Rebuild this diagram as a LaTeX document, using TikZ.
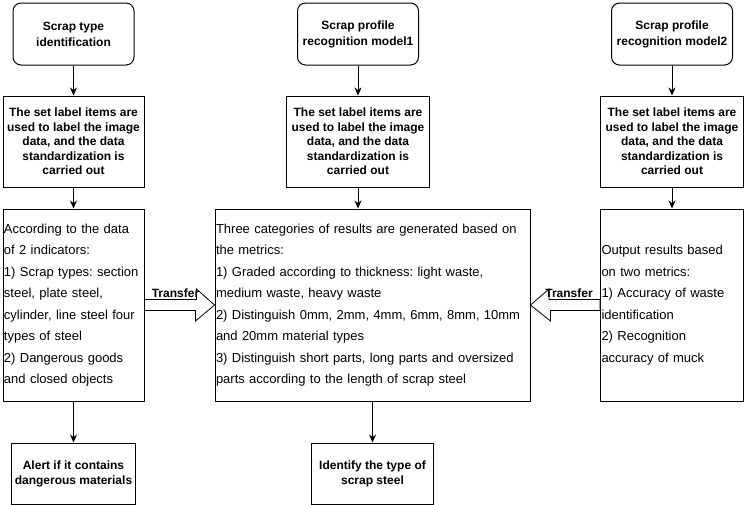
\documentclass[tikz,border=0pt]{standalone}
\usepackage{fontspec}
\setmainfont{Liberation Sans}
\frenchspacing
\usepackage{tikz}
\usetikzlibrary{shapes,arrows.meta,positioning,calc}

\begin{document}
\begin{tikzpicture}[x=1pt,y=-1pt,line width=1pt]

\tikzstyle{title} = [rectangle, rounded corners=8pt, minimum width=121pt, minimum height=62pt, align=center, draw=black, font=\bfseries\fontsize{12}{16}\selectfont]
\tikzstyle{labelbox} = [rectangle, minimum width=143pt, minimum height=91pt, align=center, inner xsep=1pt, draw=black, font=\bfseries\fontsize{12}{14.5}\selectfont]
\tikzstyle{metric} = [rectangle, minimum height=192pt, align=left, inner xsep=1pt, draw=black, font=\fontsize{13}{21.5}\selectfont]
\tikzstyle{result} = [rectangle, minimum width=122pt, minimum height=61pt, align=center, draw=black, font=\bfseries\fontsize{12}{15}\selectfont]
\tikzstyle{arrow} = [->,>={Stealth[length=8pt,width=7pt]}]
\tikzstyle{blockarrow} = [draw=black, fill=white, line width=0.8pt]
\tikzstyle{trlabel} = [inner sep=0pt, font=\bfseries\fontsize{12}{14}\selectfont]

\useasboundingbox (0,0) rectangle (749,504);

% left column
\node (type) [title] at (73.5,34) {Scrap type\\identification};
\node (label1) [labelbox, below=30pt of type, minimum width=141pt] {The set label items are\\used to label the image\\data, and the data\\standardization is\\carried out};
\node (index1) [metric, below=21pt of label1, minimum width=141pt, text width=139pt] {According to the data\\of 2 indicators:\\1) Scrap types: section\\steel, plate steel,\\cylinder, line steel four\\types of steel\\2) Dangerous goods\\and closed objects};
\node (alert) [result, below=41pt of index1] {Alert if it contains\\dangerous materials};

% middle column
\node (model1) [title] at (358,34) {Scrap profile\\recognition model1};
\node (label2) [labelbox, below=30pt of model1] {The set label items are\\used to label the image\\data, and the data\\standardization is\\carried out};
\node (index2) [metric, below=21pt of label2, xshift=14.5pt, minimum width=315pt, text width=313pt] {Three categories of results are generated based on\\the metrics:\\1) Graded according to thickness: light waste,\\medium waste, heavy waste\\2) Distinguish 0mm, 2mm, 4mm, 6mm, 8mm, 10mm\\and 20mm material types\\3) Distinguish short parts, long parts and oversized\\parts according to the length of scrap steel};
\node (steel) [result, below=41pt of index2] {Identify the type of\\scrap steel};

% right column
\node (model2) [title] at (672,34) {Scrap profile\\recognition model2};
\node (label3) [labelbox, below=30pt of model2] {The set label items are\\used to label the image\\data, and the data\\standardization is\\carried out};
\node (index3) [metric, below=21pt of label3, minimum width=143pt, text width=141pt] {Output results based\\on two metrics:\\1) Accuracy of waste\\identification\\2) Recognition\\accuracy of muck};

\draw [arrow] (type) -- (label1);
\draw [arrow] (label1) -- (index1);
\draw [arrow] (index1) -- (alert);
\draw [arrow] (model1) -- (label2);
\draw [arrow] (label2.south) -- (label2.south |- index2.north);
\draw [arrow] (index2) -- (steel);
\draw [arrow] (model2) -- (label3);
\draw [arrow] (label3) -- (index3);

% transfer arrows
\draw [blockarrow] ($(index1.east)+(0,-5.5)$) -- ++(52,0) -- ++(0,-10.5) -- (index2.west) -- ++(-19,16) -- ++(0,-10.5) -- ($(index1.east)+(0,5.5)$) -- cycle;
\draw [blockarrow] ($(index3.west)+(0,-5.5)$) -- ++(-51,0) -- ++(0,-10.5) -- (index2.east) -- ++(20,16) -- ++(0,-10.5) -- ($(index3.west)+(0,5.5)$) -- cycle;
\node (tr1) [trlabel, anchor=base] at ($(index1.east)+(31,-7.5)$) {Transfer};
\node (tr2) [trlabel, anchor=base] at ($(index3.west)+(-31,-7.5)$) {Transfer};

\end{tikzpicture}
\end{document}
